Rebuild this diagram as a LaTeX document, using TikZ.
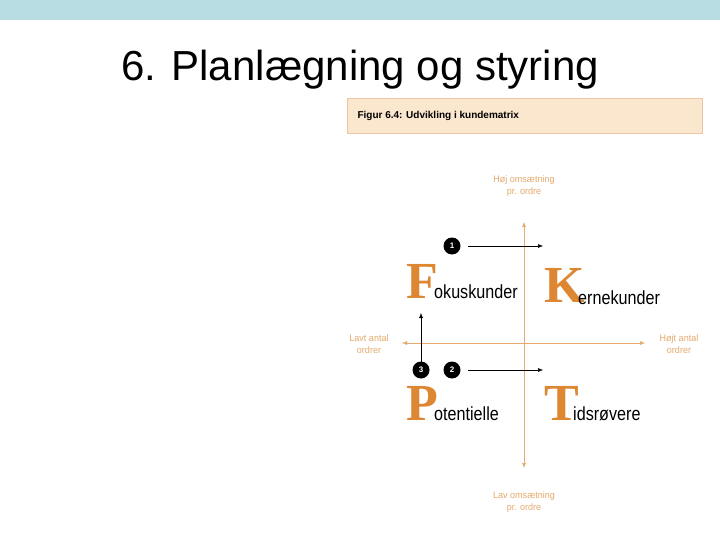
\documentclass[tikz,border=0pt]{standalone}
\usepackage{fontspec}
\setmainfont{Liberation Sans}
\newfontfamily\serifbig{Liberation Serif}
\usetikzlibrary{arrows.meta}
\definecolor{band}{RGB}{184,222,228}
\definecolor{peach}{RGB}{251,230,206}
\definecolor{peachb}{RGB}{235,200,165}
\definecolor{org}{RGB}{222,135,50}
\definecolor{axis}{RGB}{230,170,110}
\tikzset{
  axlab/.style={text=axis, font=\fontsize{9.5}{12}\selectfont\addfontfeature{FakeStretch=0.95}, align=center, inner sep=0},
  num/.style={circle, fill=black, text=white, minimum size=17pt, inner sep=0, font=\bfseries\fontsize{8}{8}\selectfont},
  big/.style={anchor=base west, inner sep=0, text=org, font=\serifbig\bfseries\fontsize{52}{52}\selectfont},
  word/.style={anchor=base west, inner sep=0, font=\fontsize{19}{19}\selectfont\addfontfeature{FakeStretch=0.85}},
  flow/.style={-{Latex[length=5pt,width=4pt]}, black, line width=0.5pt},
  ax/.style={{Latex[length=5pt,width=4pt]}-{Latex[length=5pt,width=4pt]}, axis, line width=0.5pt}
}
\begin{document}
\begin{tikzpicture}[x=1pt,y=-1pt]
\useasboundingbox (0,0) rectangle (720,540);
\fill[white] (0,0) rectangle (720,540);
\fill[band] (0,0) rectangle (720,20);
\node (title) at (360,70) {\fontsize{42}{46}\selectfont 6. Planlægning og styring};
\node[draw=peachb, fill=peach, minimum width=355pt, minimum height=35pt, anchor=north west, inner sep=0] (hdr) at (347,98) {};
\node[anchor=west, font=\bfseries\fontsize{10}{11}\selectfont] (hdrtxt) at (354,116) {Figur 6.4: Udvikling i kundematrix};
\coordinate (vt) at (524,222); \coordinate (vb) at (524,468);
\coordinate (hl) at (402,343); \coordinate (hr) at (645,343);
\draw[ax] (vt) -- (vb);
\draw[ax] (hl) -- (hr);
\node[axlab] (hoj) at (524,186) {Høj omsætning\\pr. ordre};
\node[axlab] (lav) at (524,502) {Lav omsætning\\pr. ordre};
\node[axlab] (lavt) at (369,344) {Lavt antal\\ordrer};
\node[axlab] (hojt) at (679,344) {Højt antal\\ordrer};
\node[num] (n1) at (452,246) {1};
\node[num] (n2) at (452,370) {2};
\node[num] (n3) at (421,370) {3};
\coordinate (e1) at (543,246); \coordinate (e2) at (543,370); \coordinate (e3) at (421,313);
\draw[flow] ([xshift=7pt]n1.east) -- (e1);
\draw[flow] ([xshift=7pt]n2.east) -- (e2);
\draw[flow] ([yshift=-5pt]n3.north) -- (e3);
\node[big] (F) at (406,298) {F};
\node[word] (Fw) at (434,298) {okuskunder};
\node[big] (K) at (544,302) {K};
\node[word] (Kw) at (578,304) {ernekunder};
\node[big] (P) at (406,420) {P};
\node[word] (Pw) at (434,420) {otentielle};
\node[big] (T) at (544,420) {T};
\node[word] (Tw) at (573,420) {idsrøvere};
\end{tikzpicture}
\end{document}
